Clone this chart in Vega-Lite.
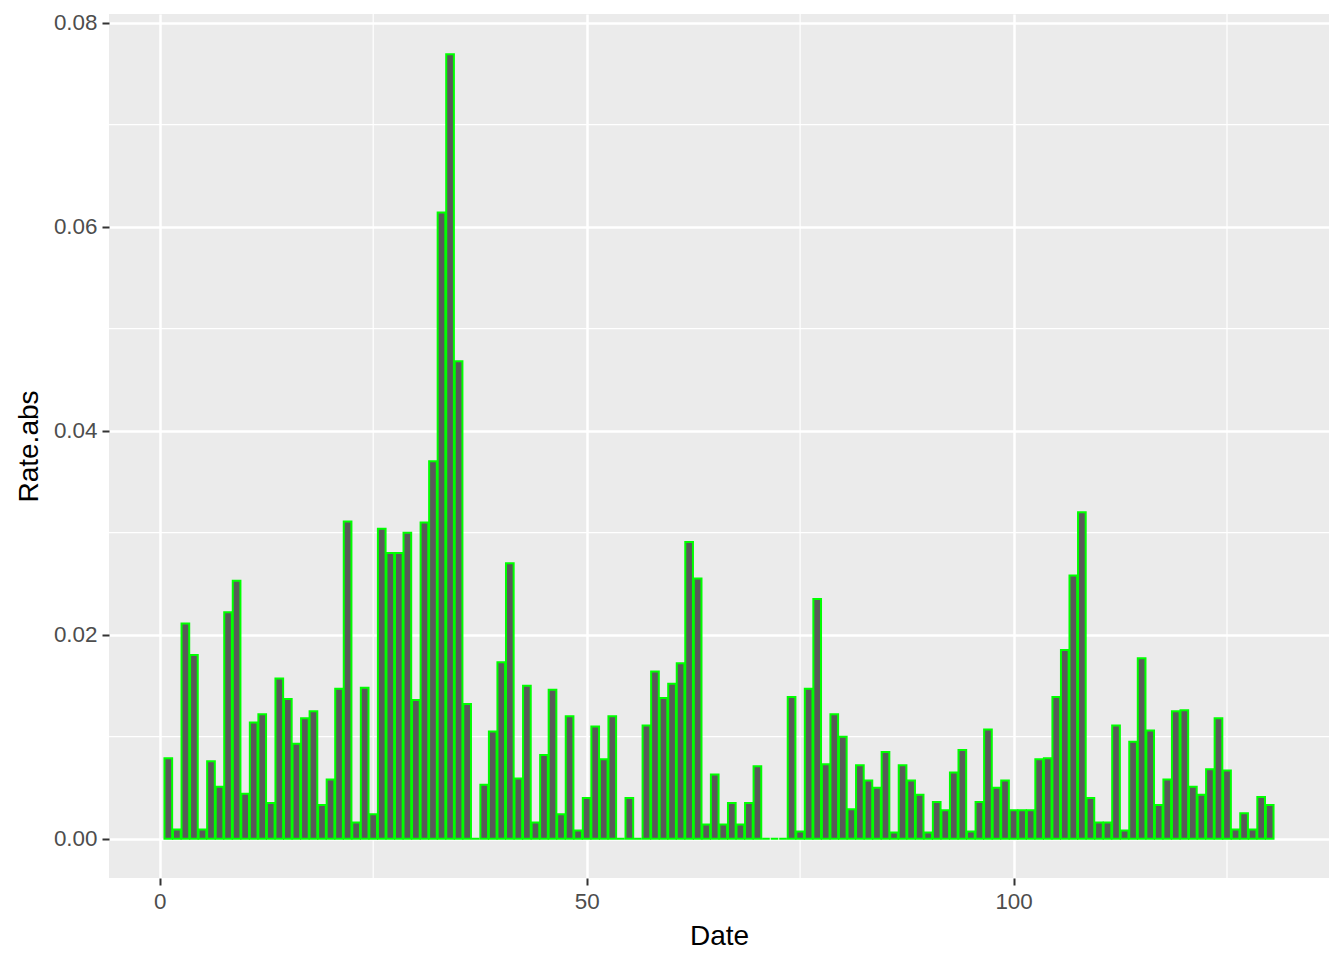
{
  "$schema": "https://vega.github.io/schema/vega-lite/v6.json",
  "autosize": "none",
  "width": 1220,
  "height": 864,
  "padding": {"left": 109, "top": 14, "right": 15, "bottom": 82},
  "background": "white",
  "config": {
    "view": {"fill": "#EBEBEB", "stroke": null},
    "font": "Liberation Sans",
    "axis": {
      "domain": false,
      "grid": true,
      "gridColor": "white",
      "gridWidth": 2.5,
      "tickColor": "#333333",
      "tickSize": 7,
      "tickWidth": 2,
      "labelColor": "#4D4D4D",
      "labelFont": "Liberation Sans",
      "labelFontSize": 22.4,
      "labelPadding": 5,
      "titleFont": "Liberation Sans",
      "titleFontSize": 28,
      "titleFontWeight": "normal",
      "titleColor": "black"
    }
  },
  "datasets": {
    "bars": [
      {"Date": 1, "Rate_abs": 0.0079}, {"Date": 2, "Rate_abs": 0.0009}, {"Date": 3, "Rate_abs": 0.0211}, {"Date": 4, "Rate_abs": 0.0180},
      {"Date": 5, "Rate_abs": 0.0009}, {"Date": 6, "Rate_abs": 0.0076}, {"Date": 7, "Rate_abs": 0.0051}, {"Date": 8, "Rate_abs": 0.0222},
      {"Date": 9, "Rate_abs": 0.0253}, {"Date": 10, "Rate_abs": 0.0044}, {"Date": 11, "Rate_abs": 0.0114}, {"Date": 12, "Rate_abs": 0.0122},
      {"Date": 13, "Rate_abs": 0.0035}, {"Date": 14, "Rate_abs": 0.0157}, {"Date": 15, "Rate_abs": 0.0137}, {"Date": 16, "Rate_abs": 0.0093},
      {"Date": 17, "Rate_abs": 0.0118}, {"Date": 18, "Rate_abs": 0.0125}, {"Date": 19, "Rate_abs": 0.0033}, {"Date": 20, "Rate_abs": 0.0058},
      {"Date": 21, "Rate_abs": 0.0147}, {"Date": 22, "Rate_abs": 0.0311}, {"Date": 23, "Rate_abs": 0.0016}, {"Date": 24, "Rate_abs": 0.0148},
      {"Date": 25, "Rate_abs": 0.0024}, {"Date": 26, "Rate_abs": 0.0304}, {"Date": 27, "Rate_abs": 0.0280}, {"Date": 28, "Rate_abs": 0.0280},
      {"Date": 29, "Rate_abs": 0.0300}, {"Date": 30, "Rate_abs": 0.0136}, {"Date": 31, "Rate_abs": 0.0310}, {"Date": 32, "Rate_abs": 0.0370},
      {"Date": 33, "Rate_abs": 0.0614}, {"Date": 34, "Rate_abs": 0.0769}, {"Date": 35, "Rate_abs": 0.0468}, {"Date": 36, "Rate_abs": 0.0132},
      {"Date": 37, "Rate_abs": 0}, {"Date": 38, "Rate_abs": 0.0053}, {"Date": 39, "Rate_abs": 0.0105}, {"Date": 40, "Rate_abs": 0.0173},
      {"Date": 41, "Rate_abs": 0.0270}, {"Date": 42, "Rate_abs": 0.0059}, {"Date": 43, "Rate_abs": 0.0150}, {"Date": 44, "Rate_abs": 0.0016},
      {"Date": 45, "Rate_abs": 0.0082}, {"Date": 46, "Rate_abs": 0.0146}, {"Date": 47, "Rate_abs": 0.0024}, {"Date": 48, "Rate_abs": 0.0120},
      {"Date": 49, "Rate_abs": 0.0008}, {"Date": 50, "Rate_abs": 0.0040}, {"Date": 51, "Rate_abs": 0.0110}, {"Date": 52, "Rate_abs": 0.0078},
      {"Date": 53, "Rate_abs": 0.0120}, {"Date": 54, "Rate_abs": 0}, {"Date": 55, "Rate_abs": 0.0040}, {"Date": 56, "Rate_abs": 0},
      {"Date": 57, "Rate_abs": 0.0111}, {"Date": 58, "Rate_abs": 0.0164}, {"Date": 59, "Rate_abs": 0.0138}, {"Date": 60, "Rate_abs": 0.0152},
      {"Date": 61, "Rate_abs": 0.0172}, {"Date": 62, "Rate_abs": 0.0291}, {"Date": 63, "Rate_abs": 0.0255}, {"Date": 64, "Rate_abs": 0.0014},
      {"Date": 65, "Rate_abs": 0.0063}, {"Date": 66, "Rate_abs": 0.0014}, {"Date": 67, "Rate_abs": 0.0035}, {"Date": 68, "Rate_abs": 0.0014},
      {"Date": 69, "Rate_abs": 0.0035}, {"Date": 70, "Rate_abs": 0.0071}, {"Date": 71, "Rate_abs": 0}, {"Date": 72, "Rate_abs": 0},
      {"Date": 73, "Rate_abs": 0}, {"Date": 74, "Rate_abs": 0.0139}, {"Date": 75, "Rate_abs": 0.0007}, {"Date": 76, "Rate_abs": 0.0147},
      {"Date": 77, "Rate_abs": 0.0235}, {"Date": 78, "Rate_abs": 0.0073}, {"Date": 79, "Rate_abs": 0.0122}, {"Date": 80, "Rate_abs": 0.0100},
      {"Date": 81, "Rate_abs": 0.0029}, {"Date": 82, "Rate_abs": 0.0072}, {"Date": 83, "Rate_abs": 0.0057}, {"Date": 84, "Rate_abs": 0.0050},
      {"Date": 85, "Rate_abs": 0.0085}, {"Date": 86, "Rate_abs": 0.0006}, {"Date": 87, "Rate_abs": 0.0072}, {"Date": 88, "Rate_abs": 0.0057},
      {"Date": 89, "Rate_abs": 0.0043}, {"Date": 90, "Rate_abs": 0.0006}, {"Date": 91, "Rate_abs": 0.0036}, {"Date": 92, "Rate_abs": 0.0028},
      {"Date": 93, "Rate_abs": 0.0065}, {"Date": 94, "Rate_abs": 0.0087}, {"Date": 95, "Rate_abs": 0.0007}, {"Date": 96, "Rate_abs": 0.0036},
      {"Date": 97, "Rate_abs": 0.0107}, {"Date": 98, "Rate_abs": 0.0050}, {"Date": 99, "Rate_abs": 0.0057}, {"Date": 100, "Rate_abs": 0.0028},
      {"Date": 101, "Rate_abs": 0.0028}, {"Date": 102, "Rate_abs": 0.0028}, {"Date": 103, "Rate_abs": 0.0078}, {"Date": 104, "Rate_abs": 0.0079},
      {"Date": 105, "Rate_abs": 0.0139}, {"Date": 106, "Rate_abs": 0.0185}, {"Date": 107, "Rate_abs": 0.0258}, {"Date": 108, "Rate_abs": 0.0320},
      {"Date": 109, "Rate_abs": 0.0040}, {"Date": 110, "Rate_abs": 0.0016}, {"Date": 111, "Rate_abs": 0.0016}, {"Date": 112, "Rate_abs": 0.0111},
      {"Date": 113, "Rate_abs": 0.0008}, {"Date": 114, "Rate_abs": 0.0095}, {"Date": 115, "Rate_abs": 0.0177}, {"Date": 116, "Rate_abs": 0.0106},
      {"Date": 117, "Rate_abs": 0.0033}, {"Date": 118, "Rate_abs": 0.0058}, {"Date": 119, "Rate_abs": 0.0125}, {"Date": 120, "Rate_abs": 0.0126},
      {"Date": 121, "Rate_abs": 0.0051}, {"Date": 122, "Rate_abs": 0.0043}, {"Date": 123, "Rate_abs": 0.0068}, {"Date": 124, "Rate_abs": 0.0118},
      {"Date": 125, "Rate_abs": 0.0067}, {"Date": 126, "Rate_abs": 0.0009}, {"Date": 127, "Rate_abs": 0.0025}, {"Date": 128, "Rate_abs": 0.0009},
      {"Date": 129, "Rate_abs": 0.0041}, {"Date": 130, "Rate_abs": 0.0033}
    ],
    "minor_y": [{"v": 0.01}, {"v": 0.03}, {"v": 0.05}, {"v": 0.07}],
    "minor_x": [{"v": 25}, {"v": 75}, {"v": 125}]
  },
  "layer": [
    {
      "data": {"name": "minor_y"},
      "mark": {"type": "rule", "color": "white", "strokeWidth": 1.2},
      "encoding": {
        "y": {"field": "v", "type": "quantitative", "scale": {"domain": [-0.00385, 0.08085], "nice": false, "zero": false, "padding": 0}}
      }
    },
    {
      "data": {"name": "minor_x"},
      "mark": {"type": "rule", "color": "white", "strokeWidth": 1.2},
      "encoding": {
        "x": {"field": "v", "type": "quantitative", "scale": {"domain": [-5.945, 136.945], "nice": false, "zero": false, "padding": 0}}
      }
    },
    {
      "data": {"name": "bars"},
      "mark": {"type": "bar", "fill": "#595959", "stroke": "#00FF00", "strokeWidth": 2, "size": 7.68, "clip": false},
      "encoding": {
        "x": {
          "field": "Date", "type": "quantitative",
          "scale": {"domain": [-5.945, 136.945], "nice": false, "zero": false, "padding": 0},
          "axis": {"values": [0, 50, 100], "format": "d", "title": "Date", "titlePadding": 10}
        },
        "y": {
          "field": "Rate_abs", "type": "quantitative",
          "scale": {"domain": [-0.00385, 0.08085], "nice": false, "zero": false, "padding": 0},
          "axis": {"values": [0, 0.02, 0.04, 0.06, 0.08], "format": ".2f", "title": "Rate.abs", "titlePadding": 10}
        }
      }
    }
  ]
}
